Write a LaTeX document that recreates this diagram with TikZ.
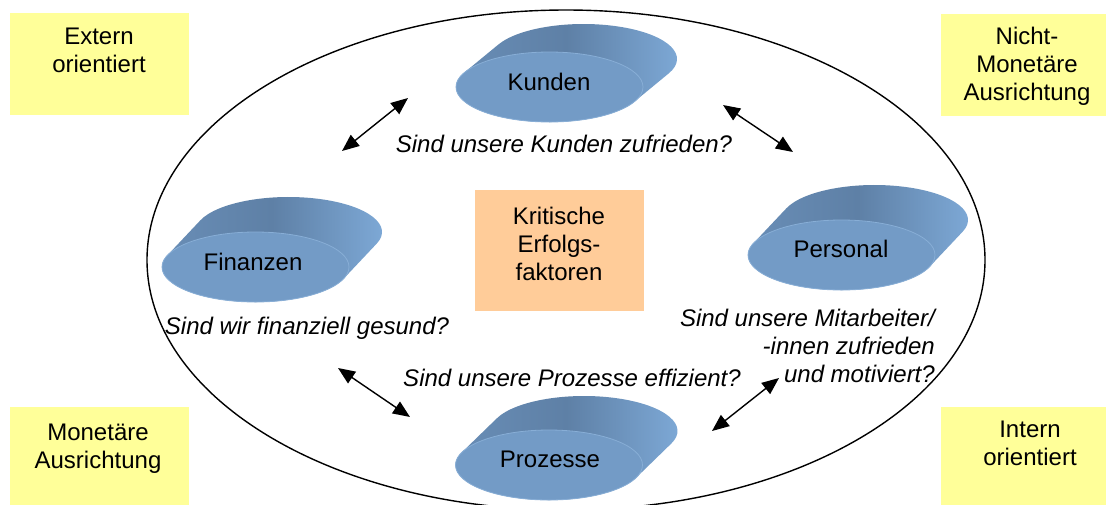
\documentclass[tikz,border=0pt]{standalone}
\usepackage{fontspec}
\setmainfont{Liberation Sans}
\usetikzlibrary{arrows.meta}
\definecolor{boxyellow}{HTML}{FFFF99}
\definecolor{boxpeach}{HTML}{FFCC99}
\definecolor{diskfront}{HTML}{739BC6}
\definecolor{diskrim}{HTML}{88AED6}
\definecolor{sideleft}{HTML}{6A8FB8}
\definecolor{sidemid}{HTML}{5E80A6}
\definecolor{sideright}{HTML}{80ACDA}
\tikzset{
  txt/.style={inner sep=0pt, font=\fontsize{24}{27.6}\selectfont},
  qtxt/.style={inner sep=0pt, font=\fontsize{24}{27.6}\selectfont\itshape},
  ybox/.style={fill=boxyellow, inner sep=0pt},
  kefbox/.style={fill=boxpeach, inner sep=0pt, minimum width=169pt, minimum height=121pt},
  sideshade/.style={left color=sideleft, right color=sideright, middle color=sidemid},
  dbl/.style={{Triangle[length=17pt,width=14pt]}-{Triangle[length=17pt,width=14pt]}, line width=1.4pt},
}
% disk: cx, cy, dx, dy
\newcommand\mydisk[4]{%
  \pgfmathsetmacro\tang{atan(35*#3/(93.5*(-#4)))}%
  \shade[sideshade] ({#1+#3+93.5*cos(\tang)},{#2+#4+35*sin(\tang)})
     arc[start angle=\tang, end angle=\tang-180, x radius=93.5, y radius=35]
     -- ({#1+93.5*cos(\tang+180)},{#2+35*sin(\tang+180)})
     arc[start angle=\tang+180, end angle=\tang, x radius=93.5, y radius=35]
     -- cycle;
  \filldraw[fill=diskfront, draw=diskrim, line width=0.8pt] (#1,#2) ellipse[x radius=93.5, y radius=35];
}
\begin{document}
\begin{tikzpicture}[x=1pt, y=-1pt]
\clip (0,0) rectangle (1106,504);
\fill[white] (0,0) rectangle (1106,504);

% corner boxes
\node[ybox, minimum width=179pt, minimum height=102pt] (extbox) at (99.5,64) {};
\node[txt, align=center, anchor=base] (ext) at (99,72) {Extern\\orientiert};
\node[ybox, minimum width=166pt, minimum height=102pt] (nmbox) at (1024,65) {};
\node[txt, align=center, anchor=base] (nm) at (1027,100) {Nicht-\\Monetäre\\Ausrichtung};
\node[ybox, minimum width=179pt, minimum height=100pt] (mobox) at (99.5,457) {};
\node[txt, align=center, anchor=base] (mo) at (98,468) {Monetäre\\Ausrichtung};
\node[ybox, minimum width=166pt, minimum height=100pt] (inbox) at (1024,457) {};
\node[txt, align=center, anchor=base] (in) at (1030,465) {Intern\\orientiert};

% big ellipse
\draw[line width=1.4pt] (566,260) ellipse[x radius=419, y radius=250];

% centre box
\node[kefbox] (kef) at (559.5,250.5) {};
\node[txt, align=center, anchor=base] (keftxt) at (559,280) {Kritische\\Erfolgs-\\faktoren};

% disks
\mydisk{549.5}{87}{34}{-28}
\node[txt, anchor=base] (kunden) at (549,90) {Kunden};
\mydisk{255.5}{267}{33}{-35}
\node[txt, anchor=base] (finanzen) at (253,270) {Finanzen};
\mydisk{841.5}{255}{33}{-35}
\node[txt, anchor=base] (personal) at (841,257) {Personal};
\mydisk{549}{465}{35}{-34}
\node[txt, anchor=base] (prozesse) at (550,467) {Prozesse};

% questions
\node[qtxt, anchor=base] (qk) at (564,152) {Sind unsere Kunden zufrieden?};
\node[qtxt, anchor=base] (qf) at (307,334) {Sind wir finanziell gesund?};
\node[qtxt, anchor=base] (qp) at (572,386) {Sind unsere Prozesse effizient?};
\node[qtxt, align=right, anchor=base east] (qm) at (935,382) {Sind unsere Mitarbeiter/\\-innen zufrieden\\und motiviert?};

% arrows
\coordinate (a1s) at (342,151);
\coordinate (a1e) at (408,98);
\coordinate (a2s) at (723,105);
\coordinate (a2e) at (793,152);
\coordinate (a3s) at (338,368);
\coordinate (a3e) at (410,417);
\coordinate (a4s) at (712,431);
\coordinate (a4e) at (779,378);
\draw[dbl] (a1s) -- (a1e);
\draw[dbl] (a2s) -- (a2e);
\draw[dbl] (a3s) -- (a3e);
\draw[dbl] (a4s) -- (a4e);
\end{tikzpicture}
\end{document}
